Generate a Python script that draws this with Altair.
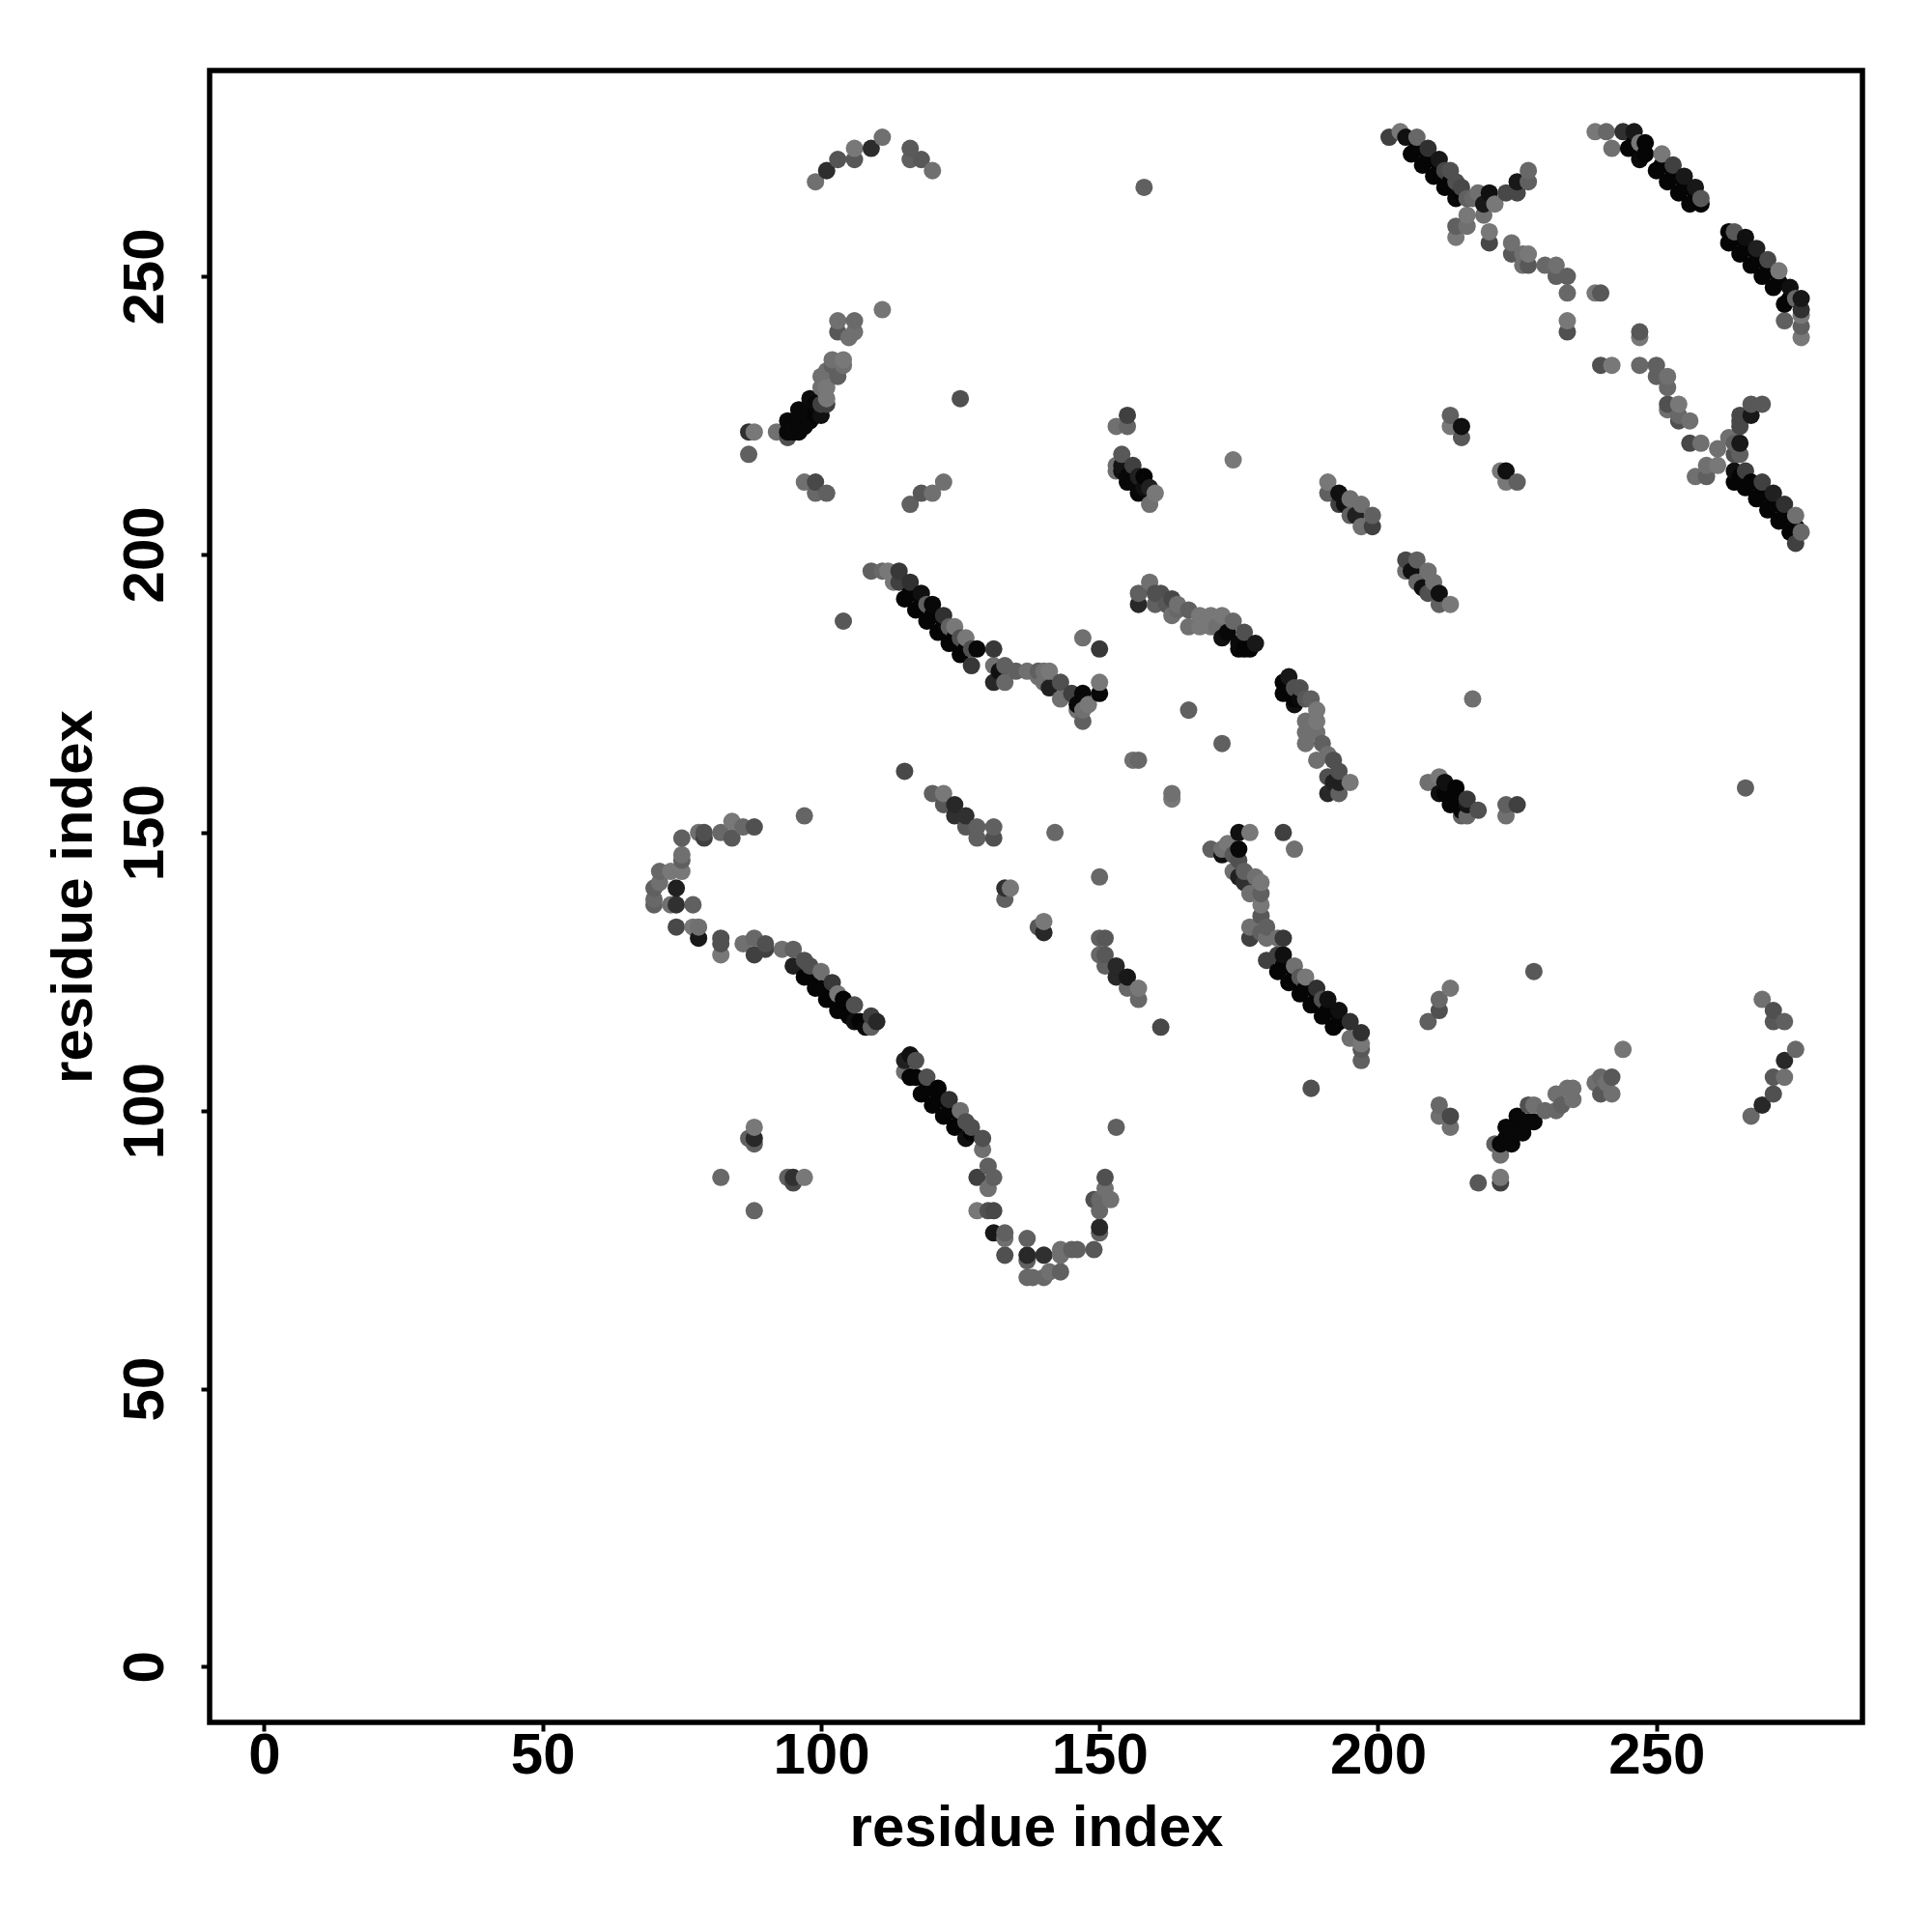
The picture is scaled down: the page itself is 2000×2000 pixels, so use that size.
import altair as alt
import pandas as pd

top_arc = [(99,267,112),(101,269,46),(103,271,85),(106,271,88),(106,273,120),(109,273,44),(111,275,112),
           (116,273,90),(116,271,96),(118,271,88),(120,269,112),(158,266,96)]
left_helix = [(111,244,117),(103,242,112),(106,242,106),(103,240,88),(106,240,112),(105,239,112),
              (104,235,120),(102,235,112),(104,234,112),(102,234,96),(103,232,96),(101,233,112),(100,232,112),
              (100,230,112),(101,230,120),(101,228,120),(101,227,64),(98,228,12),(99,225,5),(96,226,8),(97,223,8),
              (94,224,8),(94,222,8),(94,221,80),(92,222,112),(88,222,120),(87,222,48),(87,218,96),(96,224,8),
              (98,226,8),(100,227,64),(97,213,112),(99,213,72),(99,211,104),(101,211,96),(116,209,96),(118,211,88),
              (120,211,112),(122,213,112),(125,228,80)]
helix_fill = [(95,223,8),(97,225,8),(99,227,8),(96,222,8),(98,224,8),(95,222,8),(100,225,16)]
block_155 = [(155,225,64),(153,223,112),(155,223,101),(154,218,88),(156,216,64),(153,216,112),(153,215,112),(154,215,16),
             (155,213,8),(156,213,8),(157,211,8),(158,214,5),(159,212,32),(160,211,120),(159,209,112),(157,214,32),(174,217,120)]
block_155_fill = [(155,214,8),(157,212,8),(158,212,16),(154,216,20)]
block_195 = [(191,213,120),(191,211,96),(193,211,16),(193,209,64),(195,210,112),(197,209,112),(195,207,96),(196,207,32),
             (197,205,112),(199,207,96),(199,205,64),(194,209,16)]
block_207 = [(205,199,72),(207,199,96),(205,197,112),(207,195,104),(209,197,112),(210,195,112),(206,197,16),(208,194,16),
             (211,193,16),(209,193,80),(211,191,96),(213,191,120)]
band_165 = [(159,195,112),(157,193,96),(157,191,40),(160,193,80),(160,191,96),(161,193,80),(163,192,72),(162,191,88),
            (164,191,112),(163,189,112),(166,190,96),(164,190,104),(166,187,112),(168,189,120),(168,187,120),(170,189,120),
            (170,187,120),(172,189,120),(171,187,112),(174,188,104),(173,186,8),(172,185,16),(176,186,80),(175,184,10),
            (175,183,5),(177,183,5),(176,183,5),(178,184,24)]
band_190 = [(184,178,24),(183,177,5),(183,175,5),(185,176,80),(186,176,80),(185,173,16),(188,174,96),(187,174,88),
            (189,172,120),(189,170,120),(187,170,112),(187,168,112),(189,168,112),(187,166,112),(190,166,96),(189,163,112),
            (191,164,112),(192,163,80),(193,161,80),(191,160,80),(195,159,120),(192,159,32),(191,157,40),(193,157,96),(193,159,32)]
band_190_fill = [(184,176,5),(185,174,5),(186,174,10)]
isolated_mid = [(166,172,96),(172,166,96),(156,163,112),(157,163,104),(163,157,112),(163,156,120),(217,174,112),
                (104,188,88),(188,104,80),(228,125,88),(266,158,96),(161,115,72),(244,111,117)]
band_120 = [(109,197,96),(111,197,104),(112,197,120),(113,195,120),(114,197,56),(114,195,64),(115,192,5),(116,195,48),(117,190,5),
            (118,193,16),(119,188,5),(120,191,8),(119,191,96),(121,186,5),(122,189,48),(123,184,5),(124,187,120),(125,182,5),
            (126,185,120),(123,187,96),(125,185,80),(127,180,56),(128,183,8),(127,183,80),(131,183,56),(131,180,112),(131,177,40),
            (133,177,104),(132,179,16),(133,180,96),(135,179,96),(137,179,112),(139,179,96),(141,179,120),(140,177,112),(140,179,112),
            (139,178,112),(141,176,32),(143,177,80),(143,174,112),(145,175,64),(147,175,8),(150,175,8),(150,177,120),(148,173,120),
            (146,172,112),(147,170,96),(147,185,112),(150,183,56),(146,173,8),(147,172,112)]
band_120_fill = [(116,193,5),(118,191,5),(120,189,5),(122,187,5),(124,185,5),(126,183,5)]
band_185 = [(175,150,16),(177,150,120),(183,150,64),(185,147,112),(170,147,96),(172,147,112),(173,148,120),(174,146,88),
            (175,147,8),(172,146,16),(174,143,112),(175,145,80),(176,143,96),(178,142,112),(179,141,120),(176,141,48),(175,142,32),
            (177,139,112),(179,139,96),(179,137,120),(179,135,88),(180,133,96),(177,133,112),(177,131,64),(179,132,96),(180,131,112),
            (182,131,112),(183,131,56),(180,127,64),(182,125,5),(183,128,16),(182,128,64),(184,123,5),(185,126,112),(186,121,5),
            (187,124,120),(188,119,5),(189,122,48),(190,117,5),(191,120,16),(192,115,5),(193,118,16),(195,116,48),(195,113,112),
            (197,114,48),(197,112,120),(197,111,88),(197,109,96),(186,124,88),(190,120,80)]
band_185_fill = [(183,126,5),(185,124,5),(187,122,5),(189,120,5),(191,118,5),(193,116,5)]
hook_left = [(97,153,101),(88,151,80),(86,151,104),(84,152,120),(84,149,88),(82,150,104),(79,150,80),(79,149,64),(78,150,112),
             (75,149,96),(75,146,112),(75,145,96),(75,143,120),(73,143,120),(71,143,104),(71,141,112),(70,140,96),(70,138,104),
             (70,137,96),(74,140,32),(74,137,48),(73,137,112),(77,137,96),(74,133,72),(77,133,120),(78,133,112),(78,131,24),
             (82,131,80),(82,130,80),(82,128,120),(86,130,112),(88,131,104),(88,128,64),(90,130,80),(90,129,64),(93,129,112),(95,129,96),
             (95,126,32),(97,127,80),(97,124,5),(99,122,5),(100,125,112),(98,126,80),(102,123,56),(101,120,5),(104,120,5),(103,118,5),
             (103,121,120),(106,119,80),(106,116,16),(109,115,96),(109,117,64),(110,116,40),(108,115,8)]
hook_left_fill = [(98,124,5),(100,122,5),(102,120,5),(104,118,5),(105,117,5),(107,116,5)]
hook_lower = [(116,110,16),(115,109,32),(115,107,112),(117,109,80),(116,106,5),(119,106,80),(118,103,5),(121,104,5),(120,101,5),
              (123,102,48),(122,99,5),(125,100,112),(124,97,5),(126,98,80),(127,97,80),(126,95,16),(129,95,80),(129,93,112),(130,90,96),
              (128,88,64),(131,88,96),(130,86,112),(128,82,120),(130,82,80),(131,82,72),(131,78,24),(133,78,96),(133,77,112),(133,74,80),
              (137,77,96),(137,74,40),(137,73,96),(137,70,104),(138,70,104),(140,70,104),(141,71,112),(140,74,48),(143,71,96),(143,75,112),
              (143,74,112),(145,75,96),(146,75,96),(149,75,88),(150,79,40),(150,78,96),(150,82,104),(149,84,80),(150,84,104),(152,84,112),
              (151,88,80),(151,86,112),(153,97,96)]
hook_lower_fill = [(117,106,5),(119,104,5),(121,102,5),(123,100,5),(125,98,5),(127,96,5)]
small_left = [(88,97,120),(88,95,40),(87,95,96),(88,94,96),(82,88,104),(94,88,96),(95,88,48),(95,87,72),(97,88,120),(88,82,101)]
short_bands = [(115,161,72),(120,157,96),(122,157,120),(122,155,88),(124,155,40),(124,153,48),(126,153,48),(126,151,88),(128,151,96),
               (128,149,96),(131,151,96),(131,149,80),(142,150,104),(150,142,104),(133,140,48),(134,140,120),(133,138,96),(139,133,88),
               (140,134,120),(140,132,40),(151,131,88),(150,131,96),(150,128,104),(151,128,88),(151,126,96),(153,126,40),(153,124,40),
               (155,124,24),(155,122,104),(157,122,120),(157,120,104)]
top_right_a = [(202,275,64),(204,276,120),(205,275,16),(207,275,104),(206,272,5),(209,273,48),(208,270,5),(211,271,24),(210,268,5),
               (212,269,72),(213,269,80),(212,266,5),(214,267,80),(215,266,72),(214,264,8),(216,264,96),(218,265,112),(217,264,104),
               (220,265,16),(219,263,24),(221,263,120),(219,261,112),(216,261,120),(216,259,112),(214,259,96),(214,257,120),(220,258,120),
               (220,256,72),(223,265,72),(225,265,72),(225,267,24),(227,269,104),(227,267,96)]
top_right_a_fill = [(207,273,5),(209,271,5),(211,269,5),(213,267,5),(215,265,5)]
mid_diag = [(224,256,112),(224,254,88),(226,252,112),(227,254,120),(227,252,88),(226,254,112),(230,252,104),(232,252,112),(232,250,96),
            (234,250,96),(234,247,104),(239,247,120),(240,247,88),(234,242,120),(234,240,80),(247,240,88),(247,239,120),(240,234,80),
            (242,234,120),(247,234,104),(250,234,96),(250,232,96),(252,232,112),(252,230,104),(252,227,80),(254,227,120),(254,225,104),
            (252,226,112),(254,224,80),(256,224,112),(256,220,72),(258,220,112),(261,219,112),(257,214,112),(259,214,96),(259,216,112),
            (261,216,120),(263,221,112)]
right_x = [(265,224,72),(265,223,72),(265,225,72),(267,225,24),(267,227,88),(269,227,88),(265,220,24),(265,218,96),(264,220,96),
           (264,218,80),(264,215,16),(264,213,5),(266,212,5),(268,210,5),(270,208,5),(272,206,5),(274,204,5),(275,202,64),(266,215,64),
           (269,213,64),(271,211,32),(273,209,48),(275,207,112),(276,204,104)]
right_x_fill = [(265,214,5),(267,213,5),(269,211,5),(271,209,5),(273,207,5),(275,205,5)]
top_right_b = [(239,276,120),(241,276,104),(242,273,112),(244,276,48),(246,276,24),(245,273,5),(247,271,10),(247,274,120),(248,274,5),
               (251,272,120),(250,269,5),(252,267,5),(253,270,64),(254,265,5),(255,268,24),(256,263,5),(257,266,24),(258,264,88),(258,263,5)]
top_right_b_fill = [(246,274,5),(248,272,5),(251,270,5),(253,268,5),(255,266,5),(257,264,5)]
top_right_c = [(264,258,88),(263,256,5),(263,258,5),(265,254,5),(266,257,16),(267,252,5),(268,255,32),(269,250,5),(270,253,72),
               (272,251,120),(271,248,5),(274,248,16),(273,245,5),(273,242,96),(276,246,24),(276,244,48),(275,246,104),(276,241,96),
               (276,239,120),(276,243,120)]
top_right_c_fill = [(264,257,5),(266,255,5),(268,253,5),(270,251,5),(272,249,5),(274,246,5)]
pair_213 = [(213,225,96),(213,223,120),(215,223,16),(215,221,88),(222,215,120),(223,215,16),(223,213,120),(225,213,96)]
lower_right = [(213,122,117),(211,120,104),(211,118,80),(209,116,96),(211,101,104),(211,99,112),(213,99,72),(213,97,112),(218,87,88),
               (222,88,120),(222,87,64),(222,92,112),(221,94,96),(222,94,8),(224,94,8),(223,97,8),(226,96,8),(225,99,8),(228,98,8),
               (227,101,80),(228,101,112),(230,100,104),(232,100,104),(232,103,112),(233,101,96),(234,104,112),(235,104,112),(235,102,112),
               (240,106,104),(239,105,112),(242,106,88),(240,103,88),(242,103,112),(241,105,112),(269,120,112),(271,118,80),(271,116,88),
               (273,116,96),(275,111,104),(273,109,40),(271,106,88),(273,106,112),(271,103,80),(269,101,40),(267,99,104)]
lower_right_fill = [(224,96,8),(227,98,8),(223,95,8),(225,97,8)]
cluster_212 = [(209,159,112),(211,160,120),(211,157,16),(212,159,16),(213,155,5),(214,158,5),(215,153,96),(215,154,5),(216,156,56),
               (216,153,104),(218,154,80),(223,155,96),(225,155,64),(223,153,112)]
cluster_212_fill = [(212,157,5),(214,156,5),(216,155,20)]

segments = [top_arc, left_helix, helix_fill, block_155, block_155_fill, block_195, block_207, band_165, band_190, band_190_fill,
            isolated_mid, band_120, band_120_fill, band_185, band_185_fill, hook_left, hook_left_fill, hook_lower, hook_lower_fill,
            small_left, short_bands, top_right_a, top_right_a_fill, mid_diag, right_x, right_x_fill, top_right_b, top_right_b_fill,
            top_right_c, top_right_c_fill, pair_213, lower_right, lower_right_fill, cluster_212, cluster_212_fill]

rows = [p for seg in segments for p in seg]
df = pd.DataFrame(rows, columns=["x", "y", "shade"]).sort_values(["x", "y"]).reset_index(drop=True)

ticks = [0, 50, 100, 150, 200, 250]
font = "Liberation Sans"

x_axis = alt.Axis(values=ticks, title="residue index", grid=False, domain=False, tickSize=9, tickWidth=4, tickColor="black",
                  labelFont=font, labelFontWeight="bold", labelFontSize=60, labelColor="black", labelPadding=-4,
                  titleFont=font, titleFontWeight="bold", titleFontSize=60, titleColor="black", titlePadding=16, labelFlush=False)
y_axis = alt.Axis(values=ticks, title="residue index", grid=False, domain=False, tickSize=9, tickWidth=4, tickColor="black",
                  labelFont=font, labelFontWeight="bold", labelFontSize=60, labelColor="black", labelPadding=58, labelAngle=270,
                  labelAlign="center", labelBaseline="middle",
                  titleFont=font, titleFontWeight="bold", titleFontSize=60, titleColor="black", titlePadding=13, labelFlush=False)

chart = alt.Chart(df).mark_circle(size=325, opacity=1).encode(
    x=alt.X("x:Q", scale=alt.Scale(domain=[-9.8, 287], nice=False, zero=False), axis=x_axis),
    y=alt.Y("y:Q", scale=alt.Scale(domain=[-10, 287], nice=False, zero=False), axis=y_axis),
    color=alt.Color("shade:Q", scale=alt.Scale(domain=[0, 255], range=["#000000", "#ffffff"], interpolate="rgb"), legend=None),
).properties(
    width=1711, height=1710,
    autosize=alt.AutoSizeParams(type="none"),
    padding={"left": 209, "top": 65, "right": 60, "bottom": 200},
    background="white",
).configure_view(stroke="black", strokeWidth=5.5)

chart.save("out.html", embed_options={"renderer": "svg", "actions": False})
